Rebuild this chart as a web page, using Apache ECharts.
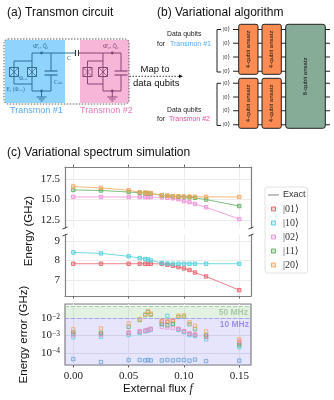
<!DOCTYPE html>
<html>
<head>
<meta charset="utf-8">
<style>
html, body { margin: 0; padding: 0; background: #fff; }
#chart { width: 334px; height: 400px; }
</style>
<script src="https://cdn.jsdelivr.net/npm/echarts@6/dist/echarts.min.js"></script>
</head>
<body>
<div id="chart"></div>
<script>
// data
var flux = [0, 0.025, 0.05, 0.06, 0.065, 0.0675, 0.07, 0.08, 0.085, 0.09, 0.095, 0.1, 0.105, 0.11, 0.12, 0.15];

var e01 = [7.83, 7.83, 7.83, 7.83, 7.83, 7.83, 7.83, 7.82, 7.78, 7.73, 7.66, 7.59, 7.51, 7.38, 7.18, 6.48];
var e10 = [8.41, 8.36, 8.21, 8.12, 8.07, 8.05, 8.0, 7.87, 7.84, 7.83, 7.83, 7.83, 7.83, 7.83, 7.83, 7.83];
var e02 = [15.32, 15.32, 15.31, 15.31, 15.3, 15.3, 15.3, 15.27, 15.22, 15.15, 15.03, 14.8, 14.67, 14.46, 14.05, 12.6];
var e11 = [16.18, 16.11, 15.93, 15.83, 15.78, 15.76, 15.73, 15.52, 15.46, 15.4, 15.36, 15.31, 15.27, 15.2, 15.0, 14.2];
var e20 = [16.6, 16.43, 16.14, 15.9, 15.86, 15.82, 15.77, 15.53, 15.47, 15.42, 15.4, 15.37, 15.36, 15.35, 15.33, 15.32];

var err00 = [4.3e-5, 2.9e-5, 3.8e-5, 3.8e-5, 3.6e-5, 3.8e-5, 3.6e-5, 3.6e-5, 3.8e-5, 3.6e-5, 3.8e-5, 3.8e-5, 3.5e-5, 4e-5, 3.3e-5, 3.5e-5];
var err01 = [0.00123, 0.00123, 0.0014, 0.00166, 0.0019, 0.0021, 0.0024, 0.0066, 0.0062, 0.0069, 0.0024, 0.00174, 0.00123, 0.00107, 0.00085, 0.00038];
var err10 = [0.00079, 0.00085, 0.00107, 0.0014, 0.00174, 0.0019, 0.0022, 0.0045, 0.0141, 0.0047, 0.0021, 0.00155, 0.00107, 0.00093, 0.0006, 0.00021];
var err02 = [0.00107, 0.00107, 0.00155, 0.0018, 0.0019, 0.0021, 0.0024, 0.0032, 0.0029, 0.00275, 0.0024, 0.0018, 0.00135, 0.00123, 0.00098, 0.00048];
var err11 = [0.00155, 0.00145, 0.0032, 0.0079, 0.0155, 0.0234, 0.0162, 0.0047, 0.0039, 0.0047, 0.012, 0.0123, 0.0045, 0.0024, 0.00107, 0.00028];
var err20 = [0.0023, 0.0026, 0.0051, 0.0091, 0.017, 0.0263, 0.0186, 0.0072, 0.0072, 0.0079, 0.0141, 0.0148, 0.0059, 0.0037, 0.00174, 0.0006];

var topTicks = [12.5, 15, 17.5];
var midTicks = [7, 8, 9];
var fluxTicks = [0, 0.05, 0.1, 0.15];
var band50 = 0.05;
var band10 = 0.01;

var names = ['|01\u27E9', '|10\u27E9', '|02\u27E9', '|11\u27E9', '|20\u27E9'];
var colors = ['#e8606a', '#4fd0dc', '#f090d8', '#5cb060', '#f5a55a'];
var blue = '#5b9bd5';

var sans = '"Liberation Sans", "DejaVu Sans", sans-serif';
var serif = '"Liberation Serif", "DejaVu Serif", serif';
var spine = '#808080';
var gridLine = '#ececec';

var chart = echarts.init(document.getElementById('chart'));

function pairs(vals) {
    return flux.map(function (f, i) { return [f, vals[i]]; });
}
function fade(hex, a) {
    var c = echarts.color.parse(hex);
    return 'rgba(' + c[0] + ',' + c[1] + ',' + c[2] + ',' + a + ')';
}
function lineSeries(name, color, vals, idx) {
    return {
        name: name, type: 'line', xAxisIndex: idx, yAxisIndex: idx,
        data: pairs(vals), symbol: 'rect', symbolSize: 3.4, showSymbol: true,
        lineStyle: { color: color, width: 1, opacity: 0.8 },
        itemStyle: { color: fade(color, 0.3), borderColor: color, borderWidth: 0.9 },
        silent: true
    };
}
function errSeries(name, color, vals) {
    return {
        name: name, type: 'scatter', xAxisIndex: 2, yAxisIndex: 2,
        data: pairs(vals), symbol: 'rect', symbolSize: 3.4,
        itemStyle: { color: fade(color, 0.1), borderColor: color, borderWidth: 0.9 },
        silent: true
    };
}

var series = [
    // legend only
    { name: 'Exact', type: 'line', xAxisIndex: 0, yAxisIndex: 0, data: [], itemStyle: { color: '#999' }, lineStyle: { color: '#999' } },
    lineSeries(names[2], colors[2], e02, 0),
    lineSeries(names[3], colors[3], e11, 0),
    lineSeries(names[4], colors[4], e20, 0),
    lineSeries(names[0], colors[0], e01, 1),
    lineSeries(names[1], colors[1], e10, 1),
    errSeries('|00\u27E9', blue, err00),
    errSeries(names[0], colors[0], err01),
    errSeries(names[1], colors[1], err10),
    errSeries(names[2], colors[2], err02),
    errSeries(names[3], colors[3], err11),
    errSeries(names[4], colors[4], err20)
];

// shaded bands of the error panel
series[6].markArea = {
    silent: true,
    data: [
        [{ yAxis: band10, itemStyle: { color: 'rgba(120,110,240,0.18)' },
            label: { show: true, position: 'insideTopRight', distance: 2, formatter: '10 MHz', color: '#9c92ea', fontSize: 8.5, fontWeight: 'bold', fontFamily: sans } },
         { yAxis: 1.95e-5 }],
        [{ yAxis: band50, itemStyle: { color: 'rgba(100,180,100,0.18)' },
            label: { show: true, position: 'insideRight', distance: 3, formatter: '50 MHz', color: '#aacaa6', fontSize: 8.5, fontWeight: 'bold', fontFamily: sans } },
         { yAxis: band10 }]
    ]
};
series[6].markLine = {
    silent: true, symbol: 'none', label: { show: false },
    data: [
        { yAxis: band50, lineStyle: { color: '#a8d0a8', type: 'dashed', width: 1 } },
        { yAxis: band10, lineStyle: { color: '#a8a4f0', type: 'dashed', width: 1 } }
    ]
};

function xAxis(idx, pos, labels, name) {
    return {
        type: 'value', gridIndex: idx, position: pos, min: -0.0075, max: 0.1606,
        axisLine: { show: idx < 2, onZero: false, lineStyle: { color: spine, width: 1.2 } },
        axisTick: { show: true, length: 2.5, customValues: fluxTicks, lineStyle: { color: '#666', width: 1 } },
        axisLabel: { show: labels, customValues: fluxTicks, margin: 6, fontFamily: serif, fontSize: 11, color: '#222',
            formatter: function (v) { return v.toFixed(2); } },
        splitLine: { show: true, lineStyle: { color: gridLine, width: 1 } },
        name: name || '', nameLocation: 'middle', nameGap: 18,
        nameTextStyle: { fontFamily: sans, fontSize: 11.5, color: '#111',
            rich: { i: { fontFamily: serif, fontStyle: 'italic', fontSize: 12, color: '#111' } } }
    };
}
function yAxis(idx, min, max, ticks, digits) {
    return {
        type: 'value', gridIndex: idx, min: min, max: max,
        axisLine: { show: true, onZero: false, lineStyle: { color: spine, width: 1.2 } },
        axisTick: { show: false, customValues: ticks },
        axisLabel: { customValues: ticks, margin: 5, fontFamily: serif, fontSize: 11, color: '#222',
            formatter: function (v) { return v.toFixed(digits); } },
        splitLine: { show: true, lineStyle: { color: gridLine, width: 1 } }
    };
}
function rightSpine(idx, min, max) {
    return {
        type: 'value', gridIndex: idx, position: 'right', min: min, max: max,
        axisLine: { show: true, onZero: false, lineStyle: { color: spine, width: 1.2 } },
        axisTick: { show: false }, axisLabel: { show: false }, splitLine: { show: false }
    };
}

var option = {
    animation: false,
    backgroundColor: '#fff',
    textStyle: { fontFamily: sans },
    grid: [
        { left: 65, top: 167, width: 186, height: 61 },
        { left: 65, top: 235, width: 186, height: 61 },
        { left: 65, top: 304, width: 186, height: 61, show: true, borderColor: spine, borderWidth: 1.2, backgroundColor: 'transparent' }
    ],
    xAxis: [
        xAxis(0, 'top', false),
        xAxis(1, 'bottom', false),
        xAxis(2, 'bottom', true, 'External flux {i|f}')
    ],
    yAxis: [
        yAxis(0, 11.5, 19, topTicks, 1),
        yAxis(1, 6.18, 9.3, midTicks, 0),
        {
            type: 'log', gridIndex: 2, min: 1.95e-5, max: 0.0677, logBase: 10,
            axisLine: { show: false, onZero: false },
            axisTick: { show: false },
            axisLabel: {
                margin: 5, color: '#222',
                rich: {
                    b: { fontFamily: serif, fontSize: 11, color: '#222' },
                    s: { fontFamily: serif, fontSize: 7.5, color: '#222', verticalAlign: 'top', lineHeight: 11, padding: [0, 0, 4, 0] }
                },
                formatter: function (v) {
                    var k = Math.log10(v);
                    if (Math.abs(k - Math.round(k)) > 1e-6) return '';
                    return '{b|10}{s|\u2212' + Math.abs(Math.round(k)) + '}';
                }
            },
            splitLine: { show: true, lineStyle: { color: 'rgba(150,150,170,0.25)', width: 1 } },
            name: 'Energy error (GHz)', nameLocation: 'middle', nameGap: 26,
            nameTextStyle: { fontFamily: sans, fontSize: 11.5, color: '#111' }
        },
        rightSpine(0, 11.5, 19),
        rightSpine(1, 6.18, 9.3)
    ],
    legend: {
        left: 265, top: 187, orient: 'vertical', padding: [3, 2, 3, 3],
        itemWidth: 11, itemHeight: 4, itemGap: 4,
        borderColor: '#e2e2e2', borderWidth: 1, borderRadius: 2,
        selectedMode: false,
        textStyle: { fontFamily: serif, fontSize: 10, lineHeight: 10, color: '#333', padding: [0, 0, 0, -1] },
        data: [
            { name: 'Exact', icon: 'path://M0,0H110V12H0Z', textStyle: { fontFamily: sans, fontSize: 9, lineHeight: 10 }, itemStyle: { color: '#999' } },
            { name: names[0], icon: 'path://M0,0H40V40H0Z', itemStyle: { color: fade(colors[0], 0.3), borderColor: colors[0], borderWidth: 0.9 } },
            { name: names[1], icon: 'path://M0,0H40V40H0Z', itemStyle: { color: fade(colors[1], 0.3), borderColor: colors[1], borderWidth: 0.9 } },
            { name: names[2], icon: 'path://M0,0H40V40H0Z', itemStyle: { color: fade(colors[2], 0.3), borderColor: colors[2], borderWidth: 0.9 } },
            { name: names[3], icon: 'path://M0,0H40V40H0Z', itemStyle: { color: fade(colors[3], 0.3), borderColor: colors[3], borderWidth: 0.9 } },
            { name: names[4], icon: 'path://M0,0H40V40H0Z', itemStyle: { color: fade(colors[4], 0.3), borderColor: colors[4], borderWidth: 0.9 } }
        ]
    },
    series: series,
    graphic: { elements: [] }
};

// schematic drawing helpers
var g = option.graphic.elements;
function seg(x1, y1, x2, y2, color, w, dash, z) {
    g.push({ type: 'line', silent: true, z: z || 5, shape: { x1: x1, y1: y1, x2: x2, y2: y2 },
        style: { stroke: color, lineWidth: w || 1, lineDash: dash || null } });
}
function box(x, y, w, h, fill, stroke, r, lw, dash) {
    g.push({ type: 'rect', silent: true, z: 4, shape: { x: x, y: y, width: w, height: h, r: r || 0 },
        style: { fill: fill, stroke: stroke || null, lineWidth: lw || 1, lineDash: dash || null } });
}
function txt(x, y, s, size, color, extra) {
    var st = { x: 0, y: 0, text: s, fontSize: size, fill: color, fontFamily: sans, align: 'left', verticalAlign: 'middle' };
    var el = { type: 'text', silent: true, z: 6, x: x, y: y, style: st };
    if (extra) {
        if (extra.rotation !== undefined) { el.rotation = extra.rotation; delete extra.rotation; }
        for (var k in extra) st[k] = extra[k];
    }
    g.push(el);
}
function junction(cx, cy, c) {
    box(cx - 4.5, cy - 4.5, 9, 9, 'rgba(255,255,255,0.15)', c, 0, 1);
    seg(cx - 4.5, cy - 4.5, cx + 4.5, cy + 4.5, c, 0.8);
    seg(cx - 4.5, cy + 4.5, cx + 4.5, cy - 4.5, c, 0.8);
}
function transmon(jL, jR, node, capX, c) {
    seg(jL, 61, jR, 61, c);
    seg(jL, 84, jR, 84, c);
    seg(jL, 61, jL, 84, c);
    seg(jR, 53, jR, 91, c);
    seg(jR, 91, capX, 91, c);
    seg(capX, 53, capX, 71, c);
    seg(capX, 75, capX, 91, c);
    seg(capX - 6.5, 71, capX + 6.5, 71, c, 1.2);
    seg(capX - 6.5, 75, capX + 6.5, 75, c, 1.2);
    junction(jL, 72, c);
    junction(jR, 72, c);
    g.push({ type: 'circle', silent: true, z: 6, shape: { cx: node, cy: 53, r: 1.4 }, style: { fill: c } });
    g.push({ type: 'circle', silent: true, z: 6, shape: { cx: node, cy: 91, r: 1.4 }, style: { fill: c } });
    seg(node, 91, node, 97, c);
    seg(node - 5, 97, node + 5, 97, c);
    seg(node - 3, 99, node + 3, 99, c);
    seg(node - 1, 101, node + 1, 101, c);
}

// (a) transmon circuit
txt(7, 12.5, '(a) Transmon circuit', 12, '#111');
box(5, 40, 60, 63, '#90d4fb');
box(80, 40, 49, 63, '#f7b6d8');
box(4, 39, 125, 65, 'none', '#333', 4, 0.8, [1.5, 1.5]);
var cBlue = '#2f6f9e', cPink = '#8c4474';
seg(32, 53, 75.5, 53, cBlue);
seg(78.5, 53, 121, 53, cPink);
seg(75.5, 50, 75.5, 56, '#333', 1.1);
seg(78.5, 50, 78.5, 56, '#333', 1.1);
transmon(14, 32, 41.5, 51, cBlue);
transmon(87.5, 103, 112.3, 121, cPink);
txt(33, 46.5, '\u03A6\u0302\u2081, Q\u0302\u2081', 6, cBlue, { fontFamily: serif });
txt(103, 46.5, '\u03A6\u0302\u2082, Q\u0302\u2082', 6, cPink, { fontFamily: serif });
txt(19, 79, '\u03A6\u2091\u2093\u209C', 5.5, cBlue, { fontFamily: serif });
txt(6.5, 90, 'E\u2C7C (\u03A6\u2091\u2093\u209C)', 5.5, cBlue, { fontFamily: serif });
txt(54, 82, 'C\u209B\u2095', 6, cBlue, { fontFamily: serif });
txt(67, 58.5, 'C', 6, cBlue, { fontFamily: serif });
txt(10, 110.5, 'Transmon #1', 9, '#5aa9ef');
txt(80, 110.5, 'Transmon #2', 9, '#e87dba');
txt(140.5, 69, 'Map to', 9.5, '#111');
txt(133, 83, 'data qubits', 9.5, '#111');
seg(129.5, 76.3, 180, 76.3, '#111', 0.8, [1.5, 1.5]);
g.push({ type: 'polygon', silent: true, z: 6, shape: { points: [[183, 76.3], [179, 74.5], [179, 78.1]] }, style: { fill: '#111' } });

// (b) variational algorithm
txt(157, 12.5, '(b) Variational algorithm', 12, '#111');
txt(167, 34.5, 'Data qubits', 6.8, '#222');
txt(157, 44.5, 'for', 6.8, '#222');
txt(170, 44.5, 'Transmon #1', 7, '#5aa9ef');
txt(167, 110, 'Data qubits', 6.8, '#222');
txt(157, 119.5, 'for', 6.8, '#222');
txt(169, 119.5, 'Transmon #2', 7, '#d9529f');
[[29.5, 72], [83.3, 125.5]].forEach(function (b) {
    seg(217, b[0], 217, b[1], '#222');
    seg(217, b[0], 221, b[0], '#222');
    seg(217, b[1], 221, b[1], '#222');
});
// wires sit behind the ansatz boxes
[29.5, 43.3, 57, 71.3, 83.3, 97, 110.7, 124.7].forEach(function (y) {
    txt(223, y, '|0\u27E9', 6.5, '#333', { fontFamily: serif });
    seg(233, y, 330, y, '#222', 1.1, null, 3);
});
var orange = '#f98b53', sage = '#86ab96';
[[238.7, 24.3], [262, 24.3], [238.7, 78.3], [262, 78.3]].forEach(function (p) {
    box(p[0], p[1], 19.3, 50, orange, '#222', 2, 1);
    txt(p[0] + 9.6, p[1] + 25, '4-qubit ansatz', 6, '#111', { align: 'center', rotation: Math.PI / 2 });
});
box(285.7, 24.3, 39.6, 104, sage, '#222', 2.5, 1);
txt(305.5, 76.3, '8-qubit ansatz', 6, '#111', { align: 'center', rotation: Math.PI / 2 });

// (c) spectrum panels
txt(7, 153, '(c) Variational spectrum simulation', 12, '#111');
txt(29, 231, 'Energy (GHz)', 11.5, '#111', { align: 'center', rotation: Math.PI / 2 });
// axis break marks
[[65, 228], [251, 228], [65, 235], [251, 235]].forEach(function (p) {
    seg(p[0] - 2.5, p[1] + 1, p[0] + 2.5, p[1] - 1, '#444', 1);
});

chart.setOption(option);
</script>
</body>
</html>
